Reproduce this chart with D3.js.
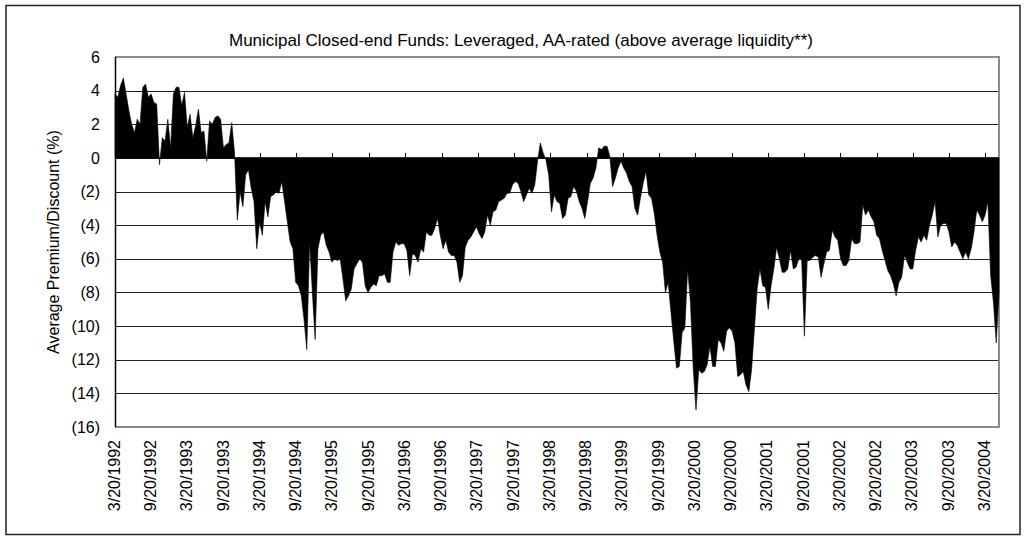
<!DOCTYPE html>
<html>
<head>
<meta charset="utf-8">
<script src="https://cdn.jsdelivr.net/npm/d3@7"></script>
<style>
  body { margin: 0; background: #fff; }
  text { font-family: "Liberation Sans", Arial, sans-serif; fill: #000; }
</style>
</head>
<body>
<div id="chart"></div>
<script>
/* Chart constants */
const WIDTH = 1027;
const HEIGHT = 539;
const PLOT = {left: 115, right: 999, top: 57, bottom: 427};

const TITLE = "Municipal Closed-end Funds: Leveraged, AA-rated (above average liquidity**)";
const Y_TITLE = "Average Premium/Discount (%)";

// tick labels
const xTickLabels = ["3/20/1992", "9/20/1992", "3/20/1993", "9/20/1993", "3/20/1994", "9/20/1994",
  "3/20/1995", "9/20/1995", "3/20/1996", "9/20/1996", "3/20/1997", "9/20/1997", "3/20/1998",
  "9/20/1998", "3/20/1999", "9/20/1999", "3/20/2000", "9/20/2000", "3/20/2001", "9/20/2001",
  "3/20/2002", "9/20/2002", "3/20/2003", "9/20/2003", "3/20/2004"];
const yTicks = [6, 4, 2, 0, -2, -4, -6, -8, -10, -12, -14, -16];

// average premium/discount (%), one reading every two weeks starting 3/20/1992
const START = "1992-03-20";
const STEP_DAYS = 14;
const v1992 = [3.8, 3.6, 4.3, 4.75, 3.8, 2.8, 2.0, 1.5, 2.3, 2.0, 4.2, 4.4, 3.6, 3.8, 3.3, 3.2, -0.4, 1.2, 1.0, 2.3, 0.6, 3.8, 4.2, 4.2, 3.1, 3.9];
const v1993 = [1.8, 2.6, 1.2, 1.9, 2.9, 1.5, 1.6, -0.2, 2.2, 2.0, 2.4, 2.5, 2.3, 0.6, 0.8, 0.9, 2.1, 0.3, -3.7, -2.0, -2.9, -1.0, -0.7, -1.8, -2.6, -5.4];
const v1994 = [-3.8, -4.6, -2.6, -3.5, -2.3, -2.2, -2.0, -2.1, -1.4, -2.6, -3.8, -5.0, -5.4, -7.4, -7.6, -8.2, -9.6, -11.4, -5.0, -8.0, -10.8, -5.4, -4.6, -4.4, -5.2, -5.6];
const v1995 = [-6.2, -6.0, -6.1, -6.0, -7.2, -8.5, -8.2, -7.8, -6.6, -6.3, -6.0, -6.2, -7.6, -8.0, -7.7, -7.5, -7.6, -7.0, -7.0, -6.9, -7.4, -7.4, -5.6, -5.0, -5.2, -5.1];
const v1996 = [-5.1, -5.5, -7.0, -5.7, -5.8, -6.2, -5.4, -5.6, -4.4, -4.6, -4.6, -4.2, -3.6, -4.6, -5.4, -4.9, -5.6, -5.8, -5.8, -6.2, -7.4, -7.0, -5.3, -4.9, -4.7, -4.4];
const v1997 = [-4.1, -4.5, -4.8, -4.4, -3.4, -4.0, -3.2, -3.1, -2.6, -2.5, -2.4, -2.1, -2.1, -1.6, -1.4, -1.5, -2.0, -2.6, -2.2, -1.8, -2.1, -1.6, -0.2, 0.9, 0.3, -0.1];
const v1998 = [-1.0, -3.2, -2.2, -2.6, -2.7, -3.6, -3.4, -2.4, -2.3, -1.7, -2.0, -2.6, -3.0, -3.6, -2.6, -1.5, -1.2, -0.6, 0.6, 0.5, 0.7, 0.7, 0.1, -1.7, -1.2, -0.6];
const v1999 = [-0.2, -0.6, -0.9, -1.4, -1.7, -3.0, -3.4, -2.4, -1.5, -0.8, -2.2, -2.4, -3.3, -4.6, -5.6, -6.2, -8.0, -7.4, -9.2, -10.9, -12.5, -12.4, -10.4, -10.1, -6.6, -8.6];
const v2000 = [-12.5, -15.0, -12.6, -12.8, -12.7, -12.3, -11.2, -12.4, -12.4, -10.8, -11.0, -11.5, -10.3, -10.1, -10.3, -11.0, -13.0, -12.9, -12.7, -13.5, -13.9, -12.6, -10.2, -7.8, -6.6, -7.6];
const v2001 = [-7.7, -9.0, -7.6, -6.6, -5.3, -6.0, -6.8, -6.8, -6.6, -5.5, -6.6, -6.5, -6.0, -6.0, -10.6, -6.1, -6.1, -5.9, -5.8, -5.9, -7.1, -6.3, -5.6, -5.5, -4.3, -4.7];
const v2002 = [-4.9, -6.0, -6.4, -6.4, -6.1, -4.8, -5.1, -5.1, -5.0, -2.8, -3.4, -3.1, -3.5, -3.8, -4.6, -4.8, -5.5, -6.1, -6.7, -7.0, -7.5, -8.2, -7.4, -7.1, -5.8, -6.2];
const v2003 = [-6.6, -6.6, -5.5, -4.7, -5.0, -4.6, -4.9, -4.0, -3.4, -2.6, -4.7, -4.0, -3.9, -3.9, -4.4, -5.3, -5.0, -5.2, -5.6, -6.0, -5.6, -6.0, -5.4, -4.4, -3.1, -3.4];
const v2004 = [-3.8, -3.4, -2.6, -7.0, -8.6, -11.0, -8.0];

const values = [].concat(v1992, v1993, v1994, v1995, v1996, v1997, v1998, v1999,
  v2000, v2001, v2002, v2003, v2004);

const parseISO = d3.timeParse("%Y-%m-%d");
const parseLabel = d3.timeParse("%m/%d/%Y");
const startDate = parseISO(START);
const data = values.map((v, i) => ({date: d3.timeDay.offset(startDate, i * STEP_DAYS), value: v}));

const svg = d3.select("#chart").append("svg")
  .attr("width", WIDTH)
  .attr("height", HEIGHT);

// outer frame
svg.append("rect")
  .attr("x", 6).attr("y", 5.5)
  .attr("width", 1014).attr("height", 529)
  .attr("fill", "none")
  .attr("stroke", "#222")
  .attr("stroke-width", 1.5);

const x = d3.scaleTime()
  .domain([startDate, data[data.length - 1].date])
  .range([PLOT.left, PLOT.right]);

const y = d3.scaleLinear()
  .domain([-16, 6])
  .range([PLOT.bottom, PLOT.top]);

// gridlines
svg.append("g")
  .selectAll("line")
  .data(yTicks.filter(d => d !== 6 && d !== -16))
  .enter()
  .append("line")
  .attr("x1", PLOT.left).attr("x2", PLOT.right)
  .attr("y1", d => Math.round(y(d)) + 0.5)
  .attr("y2", d => Math.round(y(d)) + 0.5)
  .attr("stroke", "#222")
  .attr("stroke-width", 1);

// plot border (grey top/right/bottom)
svg.append("path")
  .attr("d", `M${PLOT.left},${PLOT.top}H${PLOT.right}V${PLOT.bottom}H${PLOT.left}`)
  .attr("fill", "none")
  .attr("stroke", "#8c8c8c")
  .attr("stroke-width", 2);

// area series
const area = d3.area()
  .x(d => x(d.date))
  .y0(y(0))
  .y1(d => y(d.value));

svg.append("path")
  .datum(data)
  .attr("d", area)
  .attr("fill", "#000")
  .attr("stroke", "#000")
  .attr("stroke-width", 0.6);

// left axis line
svg.append("line")
  .attr("x1", PLOT.left + 0.5).attr("x2", PLOT.left + 0.5)
  .attr("y1", PLOT.top).attr("y2", PLOT.bottom)
  .attr("stroke", "#000")
  .attr("stroke-width", 1.5);

// zero line with tick marks
svg.append("line")
  .attr("x1", PLOT.left).attr("x2", PLOT.right)
  .attr("y1", y(0)).attr("y2", y(0))
  .attr("stroke", "#000")
  .attr("stroke-width", 1.2);

const tickDates = xTickLabels.map(parseLabel);

svg.append("g")
  .selectAll("line")
  .data(tickDates)
  .enter()
  .append("line")
  .attr("x1", d => Math.round(x(d)) + 0.5)
  .attr("x2", d => Math.round(x(d)) + 0.5)
  .attr("y1", y(0))
  .attr("y2", y(0) - 5)
  .attr("stroke", "#000");

// y tick labels
const fmtY = d => d < 0 ? `(${-d})` : `${d}`;
svg.append("g")
  .selectAll("text")
  .data(yTicks)
  .enter()
  .append("text")
  .attr("x", 100)
  .attr("y", d => y(d))
  .attr("dy", "0.35em")
  .attr("text-anchor", "end")
  .style("font-size", "16px")
  .text(fmtY);

// x tick labels
svg.append("g")
  .selectAll("text")
  .data(tickDates)
  .enter()
  .append("text")
  .attr("transform", (d, i) => `translate(${x(d) - 1},440) rotate(-90)`)
  .attr("dy", "0.35em")
  .attr("text-anchor", "end")
  .style("font-size", "16px")
  .text((d, i) => xTickLabels[i]);

// titles
svg.append("text")
  .attr("x", 521)
  .attr("y", 46)
  .attr("text-anchor", "middle")
  .style("font-size", "17px")
  .text(TITLE);

svg.append("text")
  .attr("transform", "translate(59,242) rotate(-90)")
  .attr("text-anchor", "middle")
  .style("font-size", "16px")
  .text(Y_TITLE);
</script>
</body>
</html>
